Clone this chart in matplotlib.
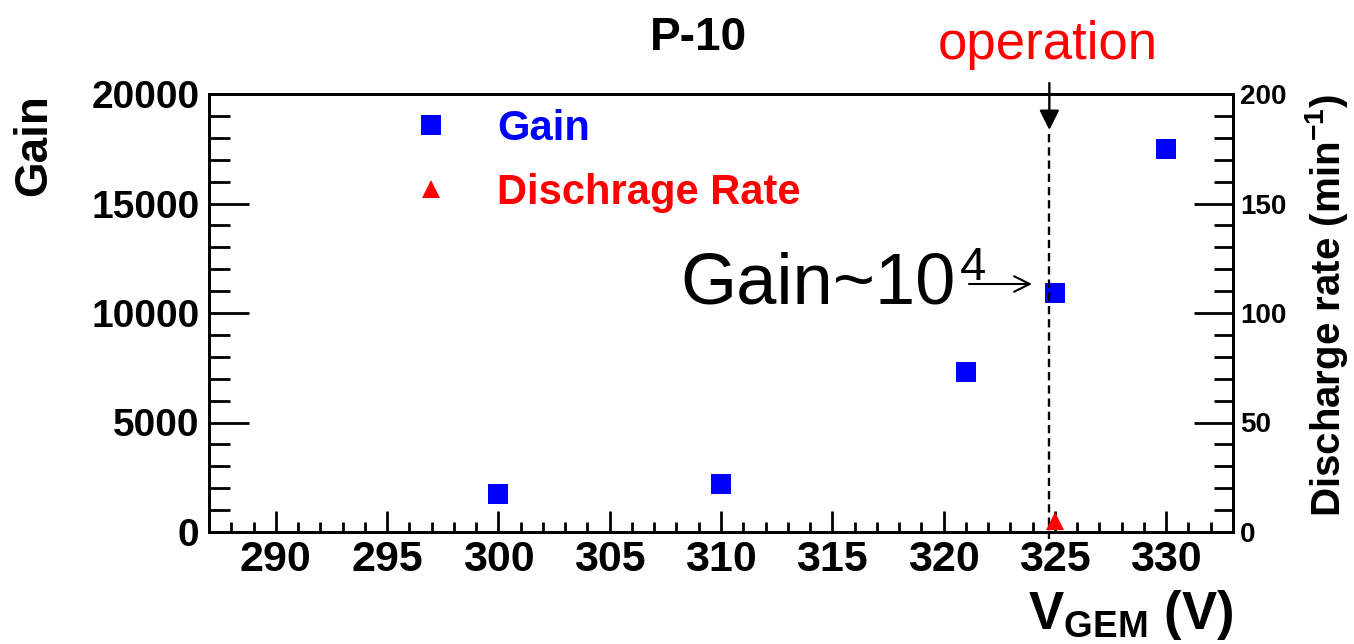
import matplotlib.pyplot as plt
from matplotlib.ticker import MultipleLocator

plt.rcParams['font.family'] = ['Liberation Sans', 'DejaVu Sans']
plt.rcParams['font.weight'] = 'bold'
plt.rcParams['axes.labelweight'] = 'bold'
plt.rcParams['mathtext.fontset'] = 'custom'
plt.rcParams['mathtext.rm'] = 'Liberation Sans:weight=normal'
plt.rcParams['mathtext.bf'] = 'Liberation Sans:weight=bold'
plt.rcParams['mathtext.it'] = 'Liberation Sans:italic'

# data
voltage = [300, 310, 321, 325, 330]
gain = [1750, 2200, 7300, 10900, 17500]
discharge_voltage = [325]
discharge_rate = [5]
operation_voltage = 324.75

W, H = 1354, 644
fig = plt.figure(figsize=(W / 100, H / 100), dpi=100)
ax = fig.add_axes([209 / W, 112 / H, 1024 / W, 438 / H])
ax2 = ax.twinx()

sq, = ax.plot(voltage, gain, 's', color='blue', ms=14.4, mew=0,
              linestyle='none', label='Gain')
tri, = ax2.plot(discharge_voltage, discharge_rate, '^', color='red', ms=13,
                mew=0, linestyle='none', label='Dischrage Rate', clip_on=False)

ax.set_xlim(287, 333)
ax.set_ylim(0, 20000)
ax2.set_ylim(0, 200)

ax.xaxis.set_major_locator(MultipleLocator(5))
ax.xaxis.set_minor_locator(MultipleLocator(1))
ax.yaxis.set_major_locator(MultipleLocator(5000))
ax.yaxis.set_minor_locator(MultipleLocator(1000))
ax2.yaxis.set_major_locator(MultipleLocator(50))
ax2.yaxis.set_minor_locator(MultipleLocator(10))

ax.tick_params(axis='x', which='major', direction='in', length=15, width=2,
               labelsize=31, pad=6, top=False)
ax.tick_params(axis='x', which='minor', direction='in', length=7, width=2, top=False)
ax.tick_params(axis='y', which='major', direction='in', length=29, width=2,
               labelsize=28, pad=7, right=False)
ax.tick_params(axis='y', which='minor', direction='in', length=15, width=2, right=False)
ax2.tick_params(axis='y', which='major', direction='in', length=28, width=2,
                labelsize=20, pad=5)
ax2.tick_params(axis='y', which='minor', direction='in', length=14, width=2)

for a in (ax, ax2):
    for s in a.spines.values():
        s.set_linewidth(2)

ax.set_ylabel('Gain', fontsize=33, loc='top')
ax.yaxis.set_label_coords(-0.149, 1.0)
ax2.set_ylabel(r'Discharge rate (min$^{\mathbf{-1}}$)', fontsize=29, loc='top')
ax2.yaxis.set_label_coords(1.068, 1.0)
ax.set_xlabel(r'V$_{\mathbf{GEM}}$ (V)', fontsize=38, loc='right')
ax.xaxis.set_label_coords(1.0, -0.128)

fig.text(698 / W, 1 - 38 / H, 'P-10', ha='center', va='center', fontsize=33)
fig.text(1048 / W, 1 - 45 / H, 'operation', ha='center', va='center',
         fontsize=38, color='red', fontweight='normal')

# operation marker
ax.plot([operation_voltage, operation_voltage], [-300, 18356], color='black',
        lw=1.7, ls=(0, (3.5, 2.1)), clip_on=False)
ax.annotate('', xy=(operation_voltage, 18356), xytext=(operation_voltage, 20502),
            annotation_clip=False,
            arrowprops=dict(arrowstyle='-|>', lw=1.7, color='black',
                            mutation_scale=30, shrinkA=0, shrinkB=0))

# Gain~10^4 note
ax.text(308.16, 10411, 'Gain~10', fontsize=52, fontweight='normal',
        ha='left', va='baseline')
ax.text(320.75, 11507, '4', fontsize=34, fontweight='normal',
        ha='left', va='baseline')
ax.annotate('', xy=(323.97, 11324), xytext=(321.14, 11324),
            arrowprops=dict(arrowstyle='->', lw=1.5, color='black',
                            mutation_scale=28, shrinkA=0, shrinkB=0))

leg = ax.legend(handles=[sq, tri], loc='upper left', bbox_to_anchor=(0.196, 0.966),
                frameon=False, prop={'size': 30, 'weight': 'bold'}, numpoints=1,
                handlelength=1.0, handletextpad=1.1, labelspacing=0.57,
                borderpad=0, borderaxespad=0)
for t, c in zip(leg.get_texts(), ['blue', 'red']):
    t.set_color(c)

fig.savefig('out.png', dpi=100)
